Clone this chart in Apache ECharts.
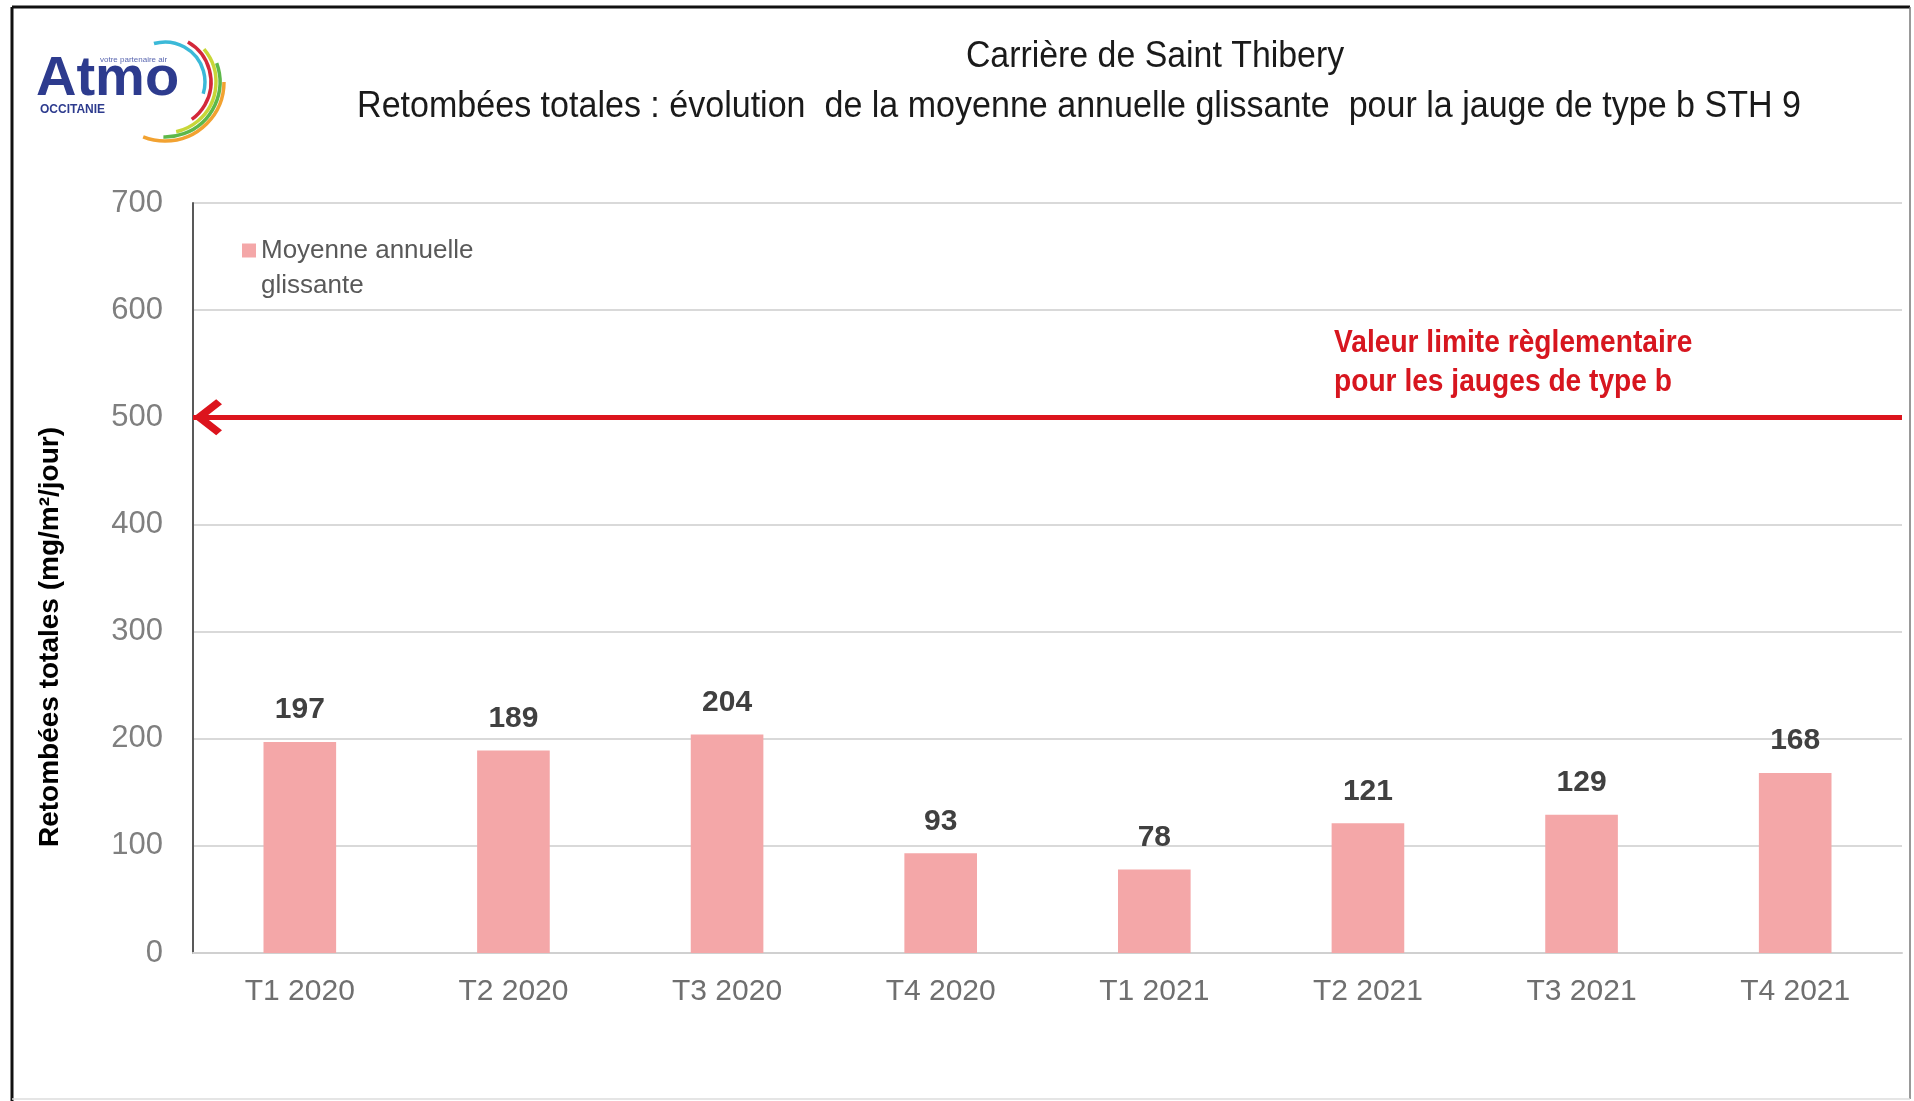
<!DOCTYPE html>
<html>
<head>
<meta charset="utf-8">
<script src="https://cdn.jsdelivr.net/npm/echarts@6/dist/echarts.min.js"></script>
<style>
  html, body { margin: 0; padding: 0; background: #fff; }
  #chart { width: 1914px; height: 1101px; }
</style>
</head>
<body>
<div id="chart"></div>
<script>
var categories = ['T1 2020', 'T2 2020', 'T3 2020', 'T4 2020', 'T1 2021', 'T2 2021', 'T3 2021', 'T4 2021'];
var moyenne = [197, 189, 204, 93, 78, 121, 129, 168];
var limite = 500;
var yTicks = [0, 100, 200, 300, 400, 500, 600, 700];

var sans = '"Liberation Sans", Arial, sans-serif';

// chevron pointing up, tip in the middle of its box so it sits on the line end
var chevron = 'path://M16,10 L16.01,10 L16,10.01 Z M16,30 L32,46 L27.5,50 L16,38.5 L4.5,50 L0,46 Z';

var chart = echarts.init(document.getElementById('chart'));

var option = {
  backgroundColor: '#fff',
  animation: false,
  grid: { left: 193, right: 12, top: 203, bottom: 148 },
  legend: {
    left: 242, top: 198, padding: 0,
    itemWidth: 14, itemHeight: 14,
    icon: 'rect',
    data: ['Moyenne annuelle glissante'],
    formatter: function () { return '\nMoyenne annuelle\nglissante'; },
    textStyle: { fontFamily: sans, fontSize: 26, color: '#595959', lineHeight: 35 }
  },
  xAxis: {
    type: 'category',
    data: categories,
    axisTick: { show: false },
    axisLine: { lineStyle: { color: '#d0d0d0', width: 2 } },
    axisLabel: { fontFamily: sans, fontSize: 30, color: '#6f6f6f', margin: 24 }
  },
  yAxis: {
    type: 'value',
    min: yTicks[0], max: yTicks[yTicks.length - 1], interval: 100,
    axisLine: { show: true, lineStyle: { color: '#595959', width: 2 } },
    axisTick: { show: false },
    axisLabel: { fontFamily: sans, fontSize: 31, color: '#7f7f7f', margin: 30 },
    splitLine: { lineStyle: { color: '#d9d9d9', width: 2 } }
  },
  series: [{
    name: 'Moyenne annuelle glissante',
    type: 'bar',
    data: moyenne,
    barWidth: '34%',
    itemStyle: { color: '#f4a7a8' },
    label: {
      show: true, position: 'top', distance: 17,
      fontFamily: sans, fontWeight: 'bold', fontSize: 30, color: '#404040'
    },
    markLine: {
      silent: true,
      symbol: [chevron, 'none'],
      symbolSize: [36, 58],
      label: { show: false },
      lineStyle: { color: '#dc141d', width: 5, type: 'solid' },
      data: [{ yAxis: limite }]
    }
  }],
  graphic: [
    // frame
    { type: 'line', shape: { x1: 12, y1: 7, x2: 1910, y2: 7 }, style: { stroke: '#111', lineWidth: 3 } },
    { type: 'line', shape: { x1: 12, y1: 7, x2: 12, y2: 1101 }, style: { stroke: '#111', lineWidth: 3 } },
    { type: 'line', shape: { x1: 1910, y1: 7, x2: 1910, y2: 1099 }, style: { stroke: '#777', lineWidth: 1.5 } },
    { type: 'line', shape: { x1: 12, y1: 1099, x2: 1910, y2: 1099 }, style: { stroke: '#ddd', lineWidth: 1.5 } },
    // titles
    { type: 'text', x: 1155, y: 57, scaleX: 0.915, style: { x: 0, y: 0, text: 'Carrière de Saint Thibery', fontFamily: sans, fontSize: 37, fill: '#1a1a1a', align: 'center', verticalAlign: 'middle' } },
    { type: 'text', x: 1079, y: 107, scaleX: 0.92, style: { x: 0, y: 0, text: 'Retombées totales : évolution  de la moyenne annuelle glissante  pour la jauge de type b STH 9', fontFamily: sans, fontSize: 37, fill: '#1a1a1a', align: 'center', verticalAlign: 'middle' } },
    // y axis name
    { type: 'text', x: 50, y: 637, rotation: Math.PI / 2, style: { x: 0, y: 0, text: 'Retombées totales (mg/m²/jour)', fontFamily: sans, fontWeight: 'bold', fontSize: 28, fill: '#000', align: 'center', verticalAlign: 'middle' } },
    // limit annotation
    { type: 'text', x: 1334, y: 324, scaleX: 0.88, style: { x: 0, y: 0, text: 'Valeur limite règlementaire\npour les jauges de type b', fontFamily: sans, fontWeight: 'bold', fontSize: 32, lineHeight: 39, fill: '#d7161f', verticalAlign: 'top' } },
    // logo
    { type: 'text', style: { x: 36, y: 80, text: 'Atmo', fontFamily: sans, fontWeight: 'bold', fontSize: 56, fill: '#2d3b8e', verticalAlign: 'middle' } },
    { type: 'text', style: { x: 40, y: 110, text: 'OCCITANIE', fontFamily: sans, fontWeight: 'bold', fontSize: 12, fill: '#2d3b8e', verticalAlign: 'middle' } },
    { type: 'text', style: { x: 100, y: 60, text: 'votre partenaire air', fontFamily: sans, fontSize: 8, fill: '#5a67b0', verticalAlign: 'middle' } },
    { type: 'arc', shape: { cx: 165, cy: 82, r: 40, startAngle: -1.85, endAngle: 0.3 }, style: { fill: null, stroke: '#3bb9d8', lineWidth: 3.5 } },
    { type: 'arc', shape: { cx: 165, cy: 82, r: 46, startAngle: -1.05, endAngle: 0.95 }, style: { fill: null, stroke: '#d3283a', lineWidth: 3.5 } },
    { type: 'arc', shape: { cx: 165, cy: 82, r: 51, startAngle: -0.7, endAngle: 1.35 }, style: { fill: null, stroke: '#c8d638', lineWidth: 3.5 } },
    { type: 'arc', shape: { cx: 165, cy: 82, r: 55, startAngle: -0.35, endAngle: 1.6 }, style: { fill: null, stroke: '#5db84a', lineWidth: 3.5 } },
    { type: 'arc', shape: { cx: 165, cy: 82, r: 59, startAngle: 0.0, endAngle: 1.95 }, style: { fill: null, stroke: '#f2a231', lineWidth: 3.5 } }
  ]
};

chart.setOption(option);
</script>
</body>
</html>
